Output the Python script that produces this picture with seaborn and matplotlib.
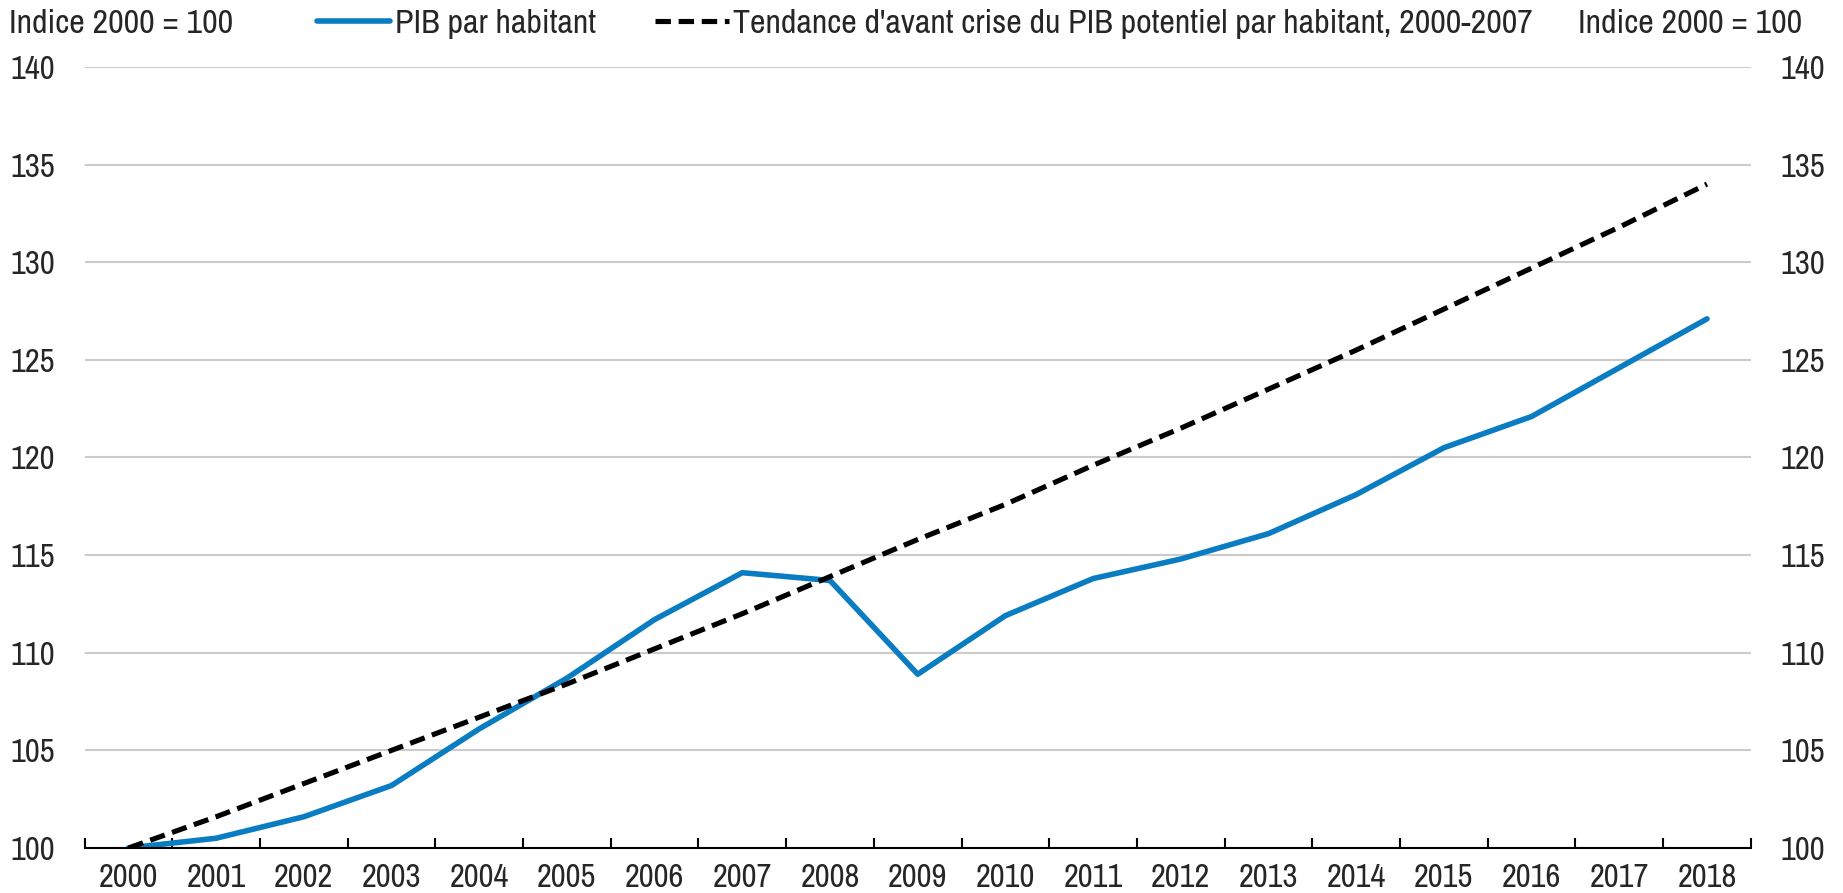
"""
PIB par habitant vs tendance d'avant crise du PIB potentiel par habitant, 2000-2018.
"""

import pandas as pd
import matplotlib.pyplot as plt
import seaborn as sns

sns.set_style("white")
plt.rcParams['font.family'] = ['Archivo Narrow', 'Pragati Narrow', 'Liberation Sans', 'DejaVu Sans']

# Data (index 2000 = 100)
years = list(range(2000, 2019))
pib_habitant = [100.0, 100.5, 101.6, 103.2, 106.1, 108.7, 111.7, 114.1, 113.7, 108.9,
                111.9, 113.8, 114.8, 116.1, 118.1, 120.5, 122.1, 124.6, 127.1]
tendance = [100.0, 101.6, 103.3, 105.0, 106.7, 108.4, 110.2, 112.0, 113.9, 115.8,
            117.6, 119.6, 121.5, 123.5, 125.5, 127.6, 129.7, 131.8, 134.0]
y_ticks = [100, 105, 110, 115, 120, 125, 130, 135, 140]

label_pib = "PIB par habitant"
label_tendance = "Tendance d'avant crise du PIB potentiel par habitant, 2000-2007"
unit_label = "Indice 2000 = 100"

data = pd.DataFrame({'year': years, 'pib': pib_habitant, 'tendance': tendance})

blue = '#0A7CC1'
fs_ticks = 23.5
fs_text = 24.5

fig = plt.figure(figsize=(18.43, 8.93), dpi=100)
ax = fig.add_axes([0.0459, 0.0504, 0.9041, 0.8746])

sns.lineplot(data=data, x='year', y='pib', color=blue, lw=4.0, ax=ax,
             label=label_pib)
sns.lineplot(data=data, x='year', y='tendance', color='black', lw=3.7, ax=ax,
             label=label_tendance)
ax.lines[-1].set_dashes((3.0, 1.5))

ax.set_xlim(1999.5, 2018.5)
ax.set_ylim(100, 140)
ax.set_yticks(y_ticks)
ax.set_xticks(years)
ax.set_xticks([y - 0.5 for y in years] + [2018.5], minor=True)
ax.set_xlabel('')
ax.set_ylabel('')

ax.grid(axis='y', color='#CBCBCB', lw=1.5)
ax.grid(axis='x', visible=False)
ax.set_axisbelow(True)
for side in ['top', 'left', 'right']:
    ax.spines[side].set_visible(False)
ax.spines['bottom'].set_color('black')
ax.spines['bottom'].set_linewidth(1.5)
ax.spines['bottom'].set_zorder(3)

ax.tick_params(axis='x', which='major', length=0, pad=11, labelsize=fs_ticks)
ax.tick_params(axis='x', which='minor', direction='in', length=7,
               width=1.5, color='black', bottom=True)
ax.tick_params(axis='y', length=0, labelsize=fs_ticks, labelleft=True,
               labelright=True, pad=21)

# Legend across the top
handles, labels = ax.get_legend_handles_labels()
ax.get_legend().remove()
fig.legend(handles, labels, loc='center left', bbox_to_anchor=(0.172, 0.973),
           ncol=2, frameon=False, fontsize=fs_text, handlelength=2.15,
           handletextpad=0.14, columnspacing=1.75, borderpad=0, borderaxespad=0)

fig.text(0.005, 0.973, unit_label, fontsize=fs_text, va='center', ha='left')
fig.text(0.978, 0.973, unit_label, fontsize=fs_text, va='center', ha='right')

fig.savefig('out.png', dpi=100)
plt.close()
